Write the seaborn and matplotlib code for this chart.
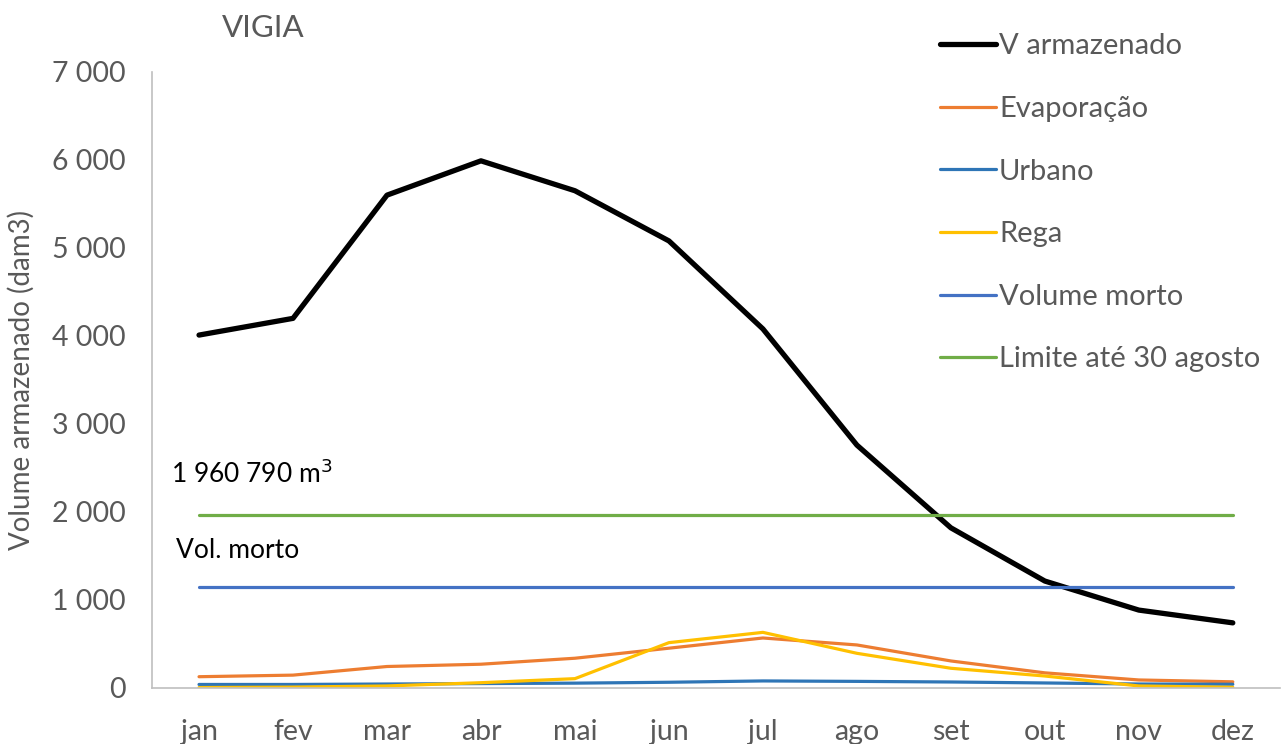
import numpy as np
import pandas as pd
import matplotlib
matplotlib.use("Agg")
import matplotlib.pyplot as plt
import seaborn as sns

meses = ["jan", "fev", "mar", "abr", "mai", "jun", "jul", "ago", "set", "out", "nov", "dez"]
v_armazenado = [4010, 4200, 5600, 5990, 5650, 5080, 4080, 2760, 1820, 1215, 885, 740]
evaporacao = [128, 146, 244, 270, 338, 452, 568, 489, 307, 172, 91, 70]
urbano = [40, 40, 45, 50, 55, 65, 80, 75, 68, 57, 45, 42]
rega = [5, 10, 23, 60, 106, 515, 632, 394, 224, 136, 23, 8]
volume_morto = [1150] * 12
limite_agosto = [1960.79] * 12

series = [
    ("V armazenado", v_armazenado, "#000000", 3.8),
    ("Evaporação", evaporacao, "#ED7D31", 2.3),
    ("Urbano", urbano, "#2E75B6", 2.3),
    ("Rega", rega, "#FFC000", 2.3),
    ("Volume morto", volume_morto, "#4472C4", 2.3),
    ("Limite até 30 agosto", limite_agosto, "#70AD47", 2.3),
]

sns.set_theme(style="white")
plt.rcParams["font.family"] = ["Lato", "DejaVu Sans"]

fig = plt.figure(figsize=(12.83, 7.44), dpi=100)
ax = fig.add_axes([0.1185, 0.0753, 0.879, 0.828])

x = np.arange(len(meses))
for nome, valores, cor, lw in series:
    df = pd.DataFrame({"mes": x, "valor": valores})
    sns.lineplot(data=df, x="mes", y="valor", ax=ax, color=cor, linewidth=lw,
                 label=nome, solid_capstyle="round")

ax.set_xlim(-0.5, 11.5)
ax.set_ylim(0, 7000)
ax.set_xticks(x)
ax.set_xticklabels(meses)
ax.set_yticks(np.arange(0, 7001, 1000))
ax.set_yticklabels([f"{v:,}".replace(",", " ") for v in range(0, 7001, 1000)])
ax.tick_params(axis="both", labelsize=20.5, colors="#595959", length=0)
ax.tick_params(axis="y", pad=19)
ax.tick_params(axis="x", pad=22)
ax.set_xlabel("")
ax.set_ylabel("Volume armazenado (dam3)", fontsize=20, color="#595959", labelpad=12)

for side in ["top", "right"]:
    ax.spines[side].set_visible(False)
for side in ["left", "bottom"]:
    ax.spines[side].set_color("#BFBFBF")
    ax.spines[side].set_linewidth(1.2)

ax.text(-0.3, 2430, "1 960 790 m$^3$", fontsize=19, color="#000000", va="center", ha="left")
ax.text(-0.25, 1557, "Vol. morto", fontsize=19, color="#000000", va="center", ha="left")

fig.text(0.173, 0.962, "VIGIA", fontsize=22.5, color="#595959", ha="left", va="center")

leg = ax.legend(loc="upper left", bbox_to_anchor=(0.6885, 1.0815), frameon=False,
                fontsize=21, handlelength=1.9, handletextpad=0.12, labelspacing=1.255,
                borderaxespad=0)
for t in leg.get_texts():
    t.set_color("#595959")

fig.savefig("out.png", dpi=100)
